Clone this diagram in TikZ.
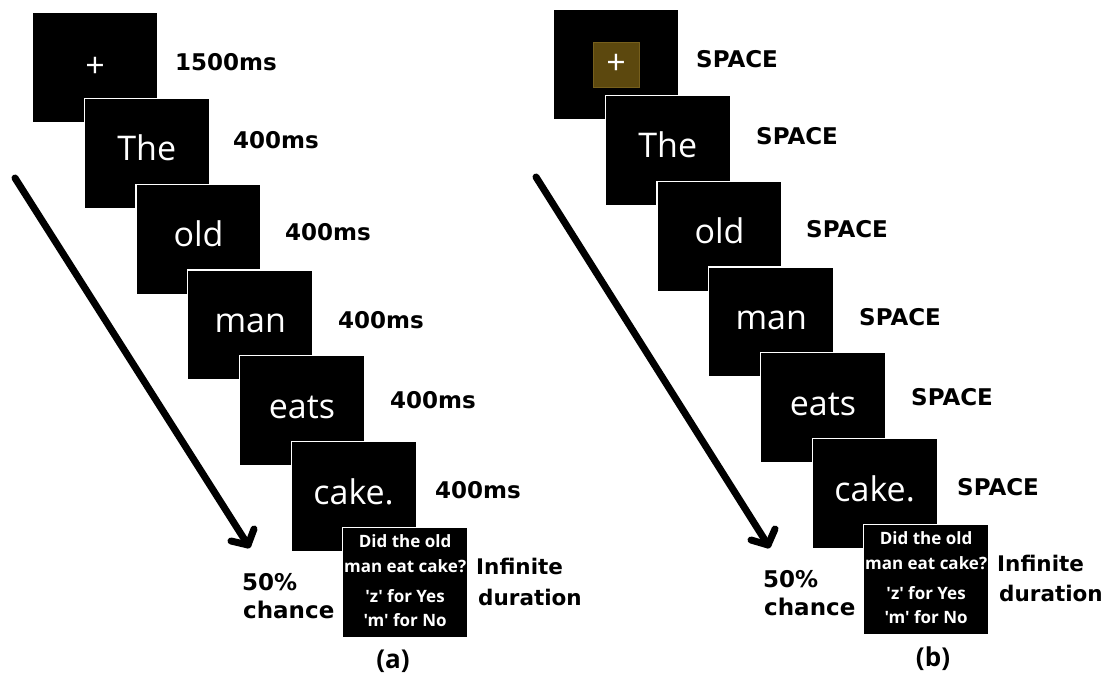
\documentclass[tikz,border=0pt]{standalone}
\usepackage{fontspec}
\newfontfamily\labfont{DejaVu Sans}
\newfontfamily\wordfont{Open Sans}
\newfontfamily\qfont{Open Sans}[Ligatures=TeXOff]
\usetikzlibrary{calc}
\definecolor{hl}{RGB}{92,72,14}
\definecolor{hlb}{RGB}{118,95,28}
\tikzset{
  scr/.style={fill=black, draw=white, line width=1.2pt, minimum width=125pt, minimum height=110pt, anchor=north west, inner sep=0pt},
  word/.style={text=white, font=\wordfont\fontsize{34}{40}\selectfont, anchor=base, inner sep=0pt},
  qtext/.style={text=white, font=\qfont\bfseries\fontsize{17}{20}\selectfont, anchor=base, inner sep=0pt},
  lab/.style={font=\labfont\bfseries\fontsize{23}{27}\selectfont, anchor=west, inner sep=0pt},
  durlab/.style={lab, font=\labfont\bfseries\fontsize{21.5}{26}\selectfont},
  captxt/.style={font=\wordfont\bfseries\fontsize{26}{30}\selectfont, inner sep=0pt},
  timeline/.style={line width=7pt, line cap=round, line join=round},
  hlbox/.style={fill=hl, draw=hlb, line width=1pt, minimum width=46pt, minimum height=45pt, inner sep=0pt},
}
\begin{document}
\begin{tikzpicture}[x=1pt,y=-1pt]
\useasboundingbox (0,0) rectangle (1107,684);
\fill[white] (0,0) rectangle (1107,684);
% ---------------- panel (a)
\begin{scope}
  \foreach \k in {0,...,5} {
    \node[scr] (a\k) at ({32+51.7*\k},{12+85.8*\k}) {};
  }
  \node[scr] (aq) at (342,527) {};
  \node[word, anchor=center] (aw0) at (a0.center) {+};
  \foreach \k/\w in {1/The,2/old,3/man,4/eats,5/cake.} {
    \node[word] (aw\k) at ($(a\k.north)+(0,63)$) {\w};
  }
  \foreach \k/\px/\py/\t in {0/175/62/1500ms,1/233/140/400ms,2/285/232/400ms,3/338/320/400ms,4/390/400/400ms,5/435/490/400ms} {
    \node[lab] (al\k) at (\px,\py) {\t};
  }
  \node[qtext] (aq1) at ($(aq.north)+(0,20)$) {Did the old};
  \node[qtext] (aq2) at ($(aq.north)+(0,45)$) {man eat cake?};
  \node[qtext] (aq3) at ($(aq.north)+(0,75)$) {'z' for Yes};
  \node[qtext] (aq4) at ($(aq.north)+(0,99)$) {'m' for No};
  \node[durlab] (ainf) at (476,566) {Infinite};
  \node[durlab] (adur) at (478,597) {duration};
  \node[lab] (a50) at (242,582) {50\%};
  \node[lab] (ach) at (243,610) {chance};
  \node[captxt] (acap) at (393,661) {(a)};
  \coordinate (as) at (15,178);
  \coordinate (at) at (248,545);
  \coordinate (ar) at (254,529);
  \coordinate (al) at (231,541);
  \draw[timeline] (as) -- (at);
  \draw[timeline] (ar) -- (at) -- (al);
\end{scope}
% ---------------- panel (b)
\begin{scope}[shift={(521,-3)}]
  \foreach \k in {0,...,5} {
    \node[scr] (b\k) at ({32+51.7*\k},{12+85.8*\k}) {};
  }
  \node[scr] (bq) at (342,527) {};
  \node[hlbox] (bh) at (b0.center) {};
  \node[word, anchor=center] (bw0) at (bh.center) {+};
  \foreach \k/\w in {1/The,2/old,3/man,4/eats,5/cake.} {
    \node[word] (bw\k) at ($(b\k.north)+(0,63)$) {\w};
  }
  \foreach \k/\px/\py in {0/175/62,1/235/139,2/285/232,3/338/320,4/390/400,5/436/490} {
    \node[lab] (bl\k) at (\px,\py) {SPACE};
  }
  \node[qtext] (bq1) at ($(bq.north)+(0,20)$) {Did the old};
  \node[qtext] (bq2) at ($(bq.north)+(0,45)$) {man eat cake?};
  \node[qtext] (bq3) at ($(bq.north)+(0,75)$) {'z' for Yes};
  \node[qtext] (bq4) at ($(bq.north)+(0,99)$) {'m' for No};
  \node[durlab] (binf) at (476,566) {Infinite};
  \node[durlab] (bdur) at (478,596) {duration};
  \node[lab] (b50) at (242,582) {50\%};
  \node[lab] (bch) at (243,610) {chance};
  \node[captxt] (bcap) at (412,662) {(b)};
  \coordinate (bs) at (15,180);
  \coordinate (bt) at (247,548);
  \coordinate (br) at (254,532);
  \coordinate (bl) at (230,543);
  \draw[timeline] (bs) -- (bt);
  \draw[timeline] (br) -- (bt) -- (bl);
\end{scope}
\end{tikzpicture}
\end{document}
